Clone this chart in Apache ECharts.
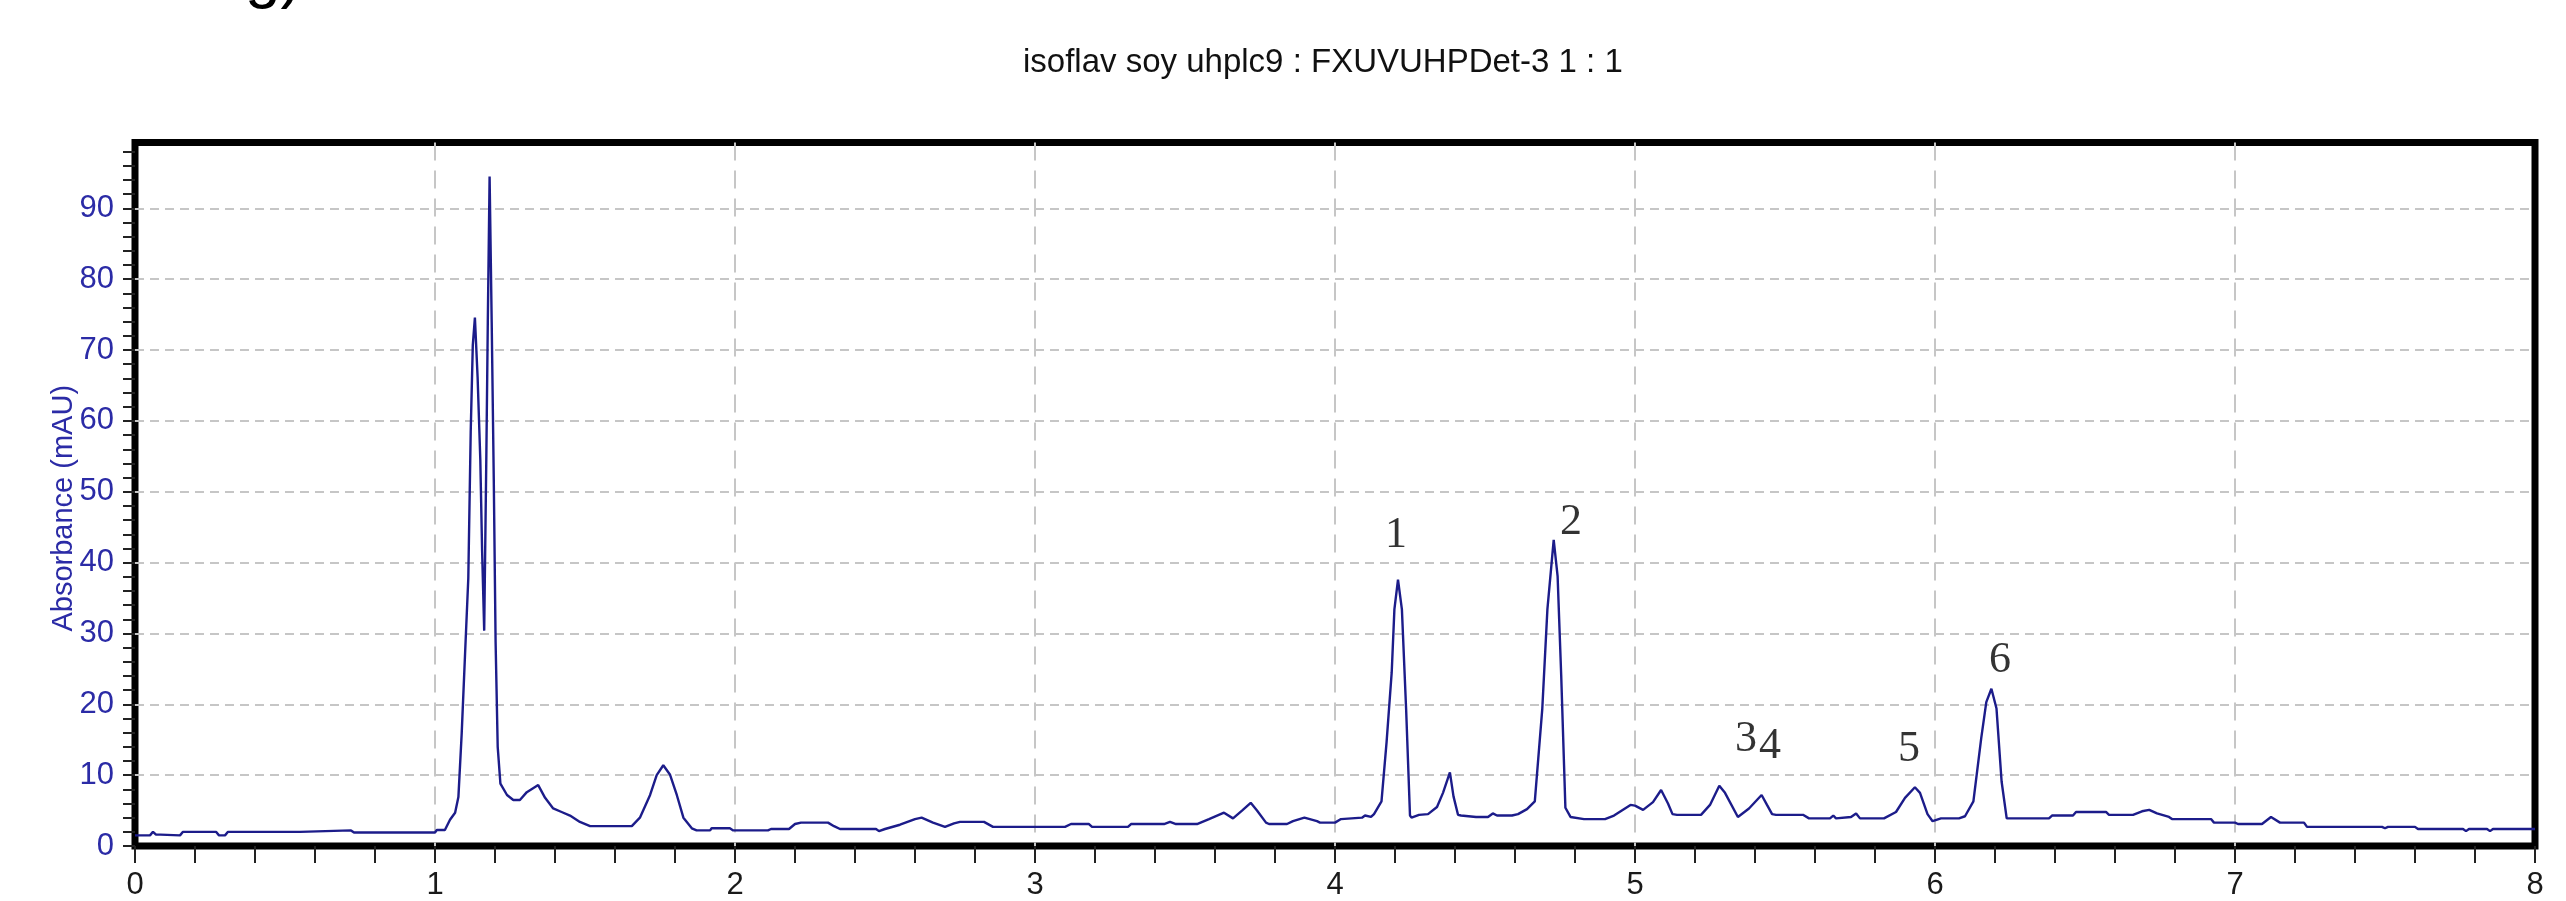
<!DOCTYPE html>
<html>
<head>
<meta charset="utf-8">
<script src="https://cdn.jsdelivr.net/npm/echarts@6/dist/echarts.min.js"></script>
<style>
  html, body { margin: 0; padding: 0; background: #fff; }
  #chart { width: 2566px; height: 901px; }
</style>
</head>
<body>
<div id="chart"></div>
<script>
// chromatogram trace
const retentionTime = [
  0.00, 0.05, 0.06, 0.07, 0.085, 0.09, 0.15, 0.16, 0.27, 0.28, 0.30, 0.31, 0.55, 0.72, 0.73, 1.00,
  1.006, 1.033, 1.05, 1.067, 1.078, 1.089, 1.10, 1.111, 1.119, 1.126, 1.133, 1.142, 1.151, 1.157,
  1.164, 1.171, 1.176, 1.182, 1.189, 1.196, 1.202, 1.209, 1.218, 1.24, 1.261, 1.283, 1.306, 1.344,
  1.367, 1.394, 1.422, 1.45, 1.483, 1.517, 1.656, 1.683, 1.717, 1.739, 1.761, 1.783, 1.806, 1.828,
  1.856, 1.872, 1.917, 1.922, 1.983, 1.994, 2.11, 2.12, 2.18, 2.20, 2.22, 2.31, 2.33, 2.35, 2.47,
  2.48, 2.50, 2.55, 2.60, 2.622, 2.66, 2.70, 2.73, 2.75, 2.83, 2.86, 3.10, 3.12, 3.18, 3.19, 3.31,
  3.32, 3.43, 3.45, 3.47, 3.54, 3.58, 3.63, 3.66, 3.69, 3.719, 3.74, 3.77, 3.78, 3.84, 3.86, 3.898,
  3.94, 3.95, 4.00, 4.02, 4.09, 4.10, 4.12, 4.13, 4.155, 4.172, 4.189, 4.198, 4.21, 4.223, 4.237,
  4.25, 4.255, 4.28, 4.31, 4.34, 4.36, 4.383, 4.395, 4.41, 4.42, 4.47, 4.51, 4.526, 4.54, 4.59,
  4.61, 4.64, 4.666, 4.691, 4.708, 4.729, 4.742, 4.754, 4.768, 4.785, 4.83, 4.90, 4.93, 4.985,
  5.00, 5.027, 5.06, 5.087, 5.11, 5.125, 5.14, 5.22, 5.25, 5.281, 5.30, 5.343, 5.38, 5.422, 5.44,
  5.457, 5.47, 5.56, 5.58, 5.65, 5.661, 5.67, 5.72, 5.737, 5.75, 5.83, 5.87, 5.90, 5.933, 5.95,
  5.975, 5.992, 6.02, 6.08, 6.10, 6.128, 6.154, 6.171, 6.188, 6.205, 6.222, 6.239, 6.38, 6.39,
  6.46, 6.47, 6.57, 6.58, 6.66, 6.69, 6.714, 6.74, 6.78, 6.79, 6.92, 6.93, 7.00, 7.01, 7.09, 7.12,
  7.15, 7.23, 7.24, 7.49, 7.50, 7.51, 7.60, 7.61, 7.76, 7.77, 7.78, 7.84, 7.85, 7.86, 8.00
];
const absorbance = [
  1.5, 1.5, 2.0, 1.6, 1.6, 1.5, 1.5, 2.0, 2.0, 1.5, 1.5, 2.0, 2.0, 2.2, 1.9, 1.9,
  2.25, 2.25, 3.7, 4.7, 6.9, 15.9, 26.9, 37.8, 58.4, 70.7, 74.6, 66.2, 54.6, 41.7,
  30.4, 54.6, 73.9, 94.5, 73.9, 51.4, 28.8, 14.0, 8.8, 7.2, 6.5, 6.5, 7.6, 8.6,
  6.8, 5.3, 4.8, 4.3, 3.4, 2.8, 2.8, 4.0, 7.2, 10.0, 11.4, 10.1, 7.2, 4.0,
  2.5, 2.2, 2.2, 2.5, 2.5, 2.2, 2.2, 2.4, 2.4, 3.1, 3.3, 3.3, 2.8, 2.4, 2.4,
  2.1, 2.4, 3.0, 3.8, 4.0, 3.3, 2.7, 3.2, 3.4, 3.4, 2.7, 2.7, 3.1, 3.1, 2.7, 2.7,
  3.1, 3.1, 3.4, 3.1, 3.1, 3.8, 4.7, 3.9, 5.0, 6.1, 5.0, 3.3, 3.1, 3.1, 3.5, 4.0,
  3.5, 3.3, 3.3, 3.8, 4.0, 4.3, 4.1, 4.5, 6.3, 14.7, 24.5, 33.4, 37.6, 33.4, 19.4,
  4.3, 4.0, 4.4, 4.5, 5.5, 7.5, 10.4, 7.0, 4.4, 4.3, 4.1, 4.1, 4.6, 4.3, 4.3,
  4.5, 5.2, 6.3, 19.4, 33.4, 43.2, 38.1, 24.1, 5.4, 4.1, 3.8, 3.8, 4.3, 5.8,
  5.7, 5.1, 6.2, 7.9, 6.0, 4.5, 4.4, 4.4, 5.8, 8.5, 7.5, 4.1, 5.3, 7.2, 5.8,
  4.5, 4.4, 4.4, 3.9, 3.9, 4.3, 3.9, 4.1, 4.6, 3.9, 3.9, 4.8, 6.8, 8.3, 7.5,
  4.5, 3.5, 3.9, 3.9, 4.2, 6.3, 15.2, 20.3, 22.2, 19.4, 9.1, 3.9, 3.9, 4.3,
  4.3, 4.8, 4.8, 4.4, 4.4, 4.9, 5.1, 4.6, 4.1, 3.8, 3.8, 3.3, 3.3, 3.1, 3.1, 4.1,
  3.3, 3.3, 2.7, 2.7, 2.5, 2.7, 2.7, 2.4, 2.4, 2.1, 2.4, 2.4, 2.1, 2.4, 2.4
];

// numbered peak annotations (placed in data units)
const peakNames = ['1', '2', '3', '4', '5', '6'];
const peakLabelTime = [4.203, 4.787, 5.37, 5.45, 5.913, 6.217];
const peakLabelHeight = [43.9, 45.7, 15.1, 14.0, 13.7, 26.2];

const xTickLabels = [0, 1, 2, 3, 4, 5, 6, 7, 8];
const yMinorTicks = [];
for (let v = 0; v <= 98; v += 2) yMinorTicks.push(v);

const titleText = 'isoflav soy uhplc9 : FXUVUHPDet-3 1 : 1';
const yName = 'Absorbance (mAU)';

const blueText = '#2b2ba6';
const tickColor = '#222';
const narrowFont = "'Liberation Sans Narrow', 'Arial Narrow', 'Liberation Sans', Arial, sans-serif";

const chart = echarts.init(document.getElementById('chart'));

const trace = retentionTime.map((t, i) => [t, absorbance[i]]);
const peaks = peakNames.map((n, i) => ({ name: n, value: [peakLabelTime[i], peakLabelHeight[i]] }));

chart.setOption({
  animation: false,
  backgroundColor: '#fff',
  title: {
    text: titleText,
    left: 1018,
    top: 41,
    textStyle: { fontFamily: "'Liberation Sans', Arial, sans-serif", fontSize: 33, fontWeight: 'normal', color: '#111' }
  },
  graphic: [{
    type: 'text',
    left: 245,
    top: -54,
    style: { text: 'g)', font: '64px "Liberation Sans", Arial, sans-serif', fill: '#000' }
  }],
  grid: {
    left: 135, right: 31, top: 142.5, bottom: 49.3,
    show: true, borderColor: '#000', borderWidth: 7, backgroundColor: 'transparent'
  },
  xAxis: {
    type: 'value',
    min: xTickLabels[0],
    max: xTickLabels[xTickLabels.length - 1],
    interval: 1,
    axisLine: { show: false },
    axisTick: { show: true, length: 17, lineStyle: { color: tickColor, width: 2 } },
    minorTick: { show: true, splitNumber: 5, length: 17, lineStyle: { color: tickColor, width: 2 } },
    axisLabel: { margin: 24, fontFamily: narrowFont, fontSize: 31, color: '#1a1a1a' },
    splitLine: {
      show: true, showMinLine: false, showMaxLine: false,
      lineStyle: { color: '#c6c6c6', width: 2, type: [18, 10] }
    }
  },
  yAxis: [{
    type: 'value',
    min: 0,
    max: 99.3,
    interval: 10,
    name: yName,
    nameLocation: 'middle',
    nameRotate: 90,
    nameGap: 57,
    nameMoveOverlap: false,
    nameTextStyle: { fontFamily: "'Liberation Sans', Arial, sans-serif", fontSize: 29, color: blueText, padding: [0, 28, 0, 0] },
    axisLine: { show: false },
    axisTick: { show: false },
    axisLabel: { margin: 21, fontFamily: narrowFont, fontSize: 31, color: blueText, showMaxLabel: false },
    splitLine: {
      show: true, showMinLine: false, showMaxLine: false,
      lineStyle: { color: '#c6c6c6', width: 2, type: [9, 6] }
    }
  }, {
    type: 'value',
    position: 'left',
    min: 0,
    max: 99.3,
    interval: 2,
    axisLine: { show: false },
    axisTick: { show: true, length: 12, customValues: yMinorTicks, lineStyle: { color: tickColor, width: 2 } },
    axisLabel: { show: false },
    splitLine: { show: false }
  }],
  series: [{
    type: 'line',
    data: trace,
    showSymbol: false,
    lineStyle: { color: '#1c1c8a', width: 2.4 },
    z: 3
  }, {
    type: 'scatter',
    data: peaks,
    symbolSize: 2,
    itemStyle: { color: 'rgba(0,0,0,0)' },
    label: {
      show: true,
      position: 'inside',
      formatter: '{b}',
      fontFamily: "'Liberation Serif', 'Times New Roman', serif",
      fontSize: 44,
      color: '#000'
    },
    z: 4
  }]
});
</script>
</body>
</html>
